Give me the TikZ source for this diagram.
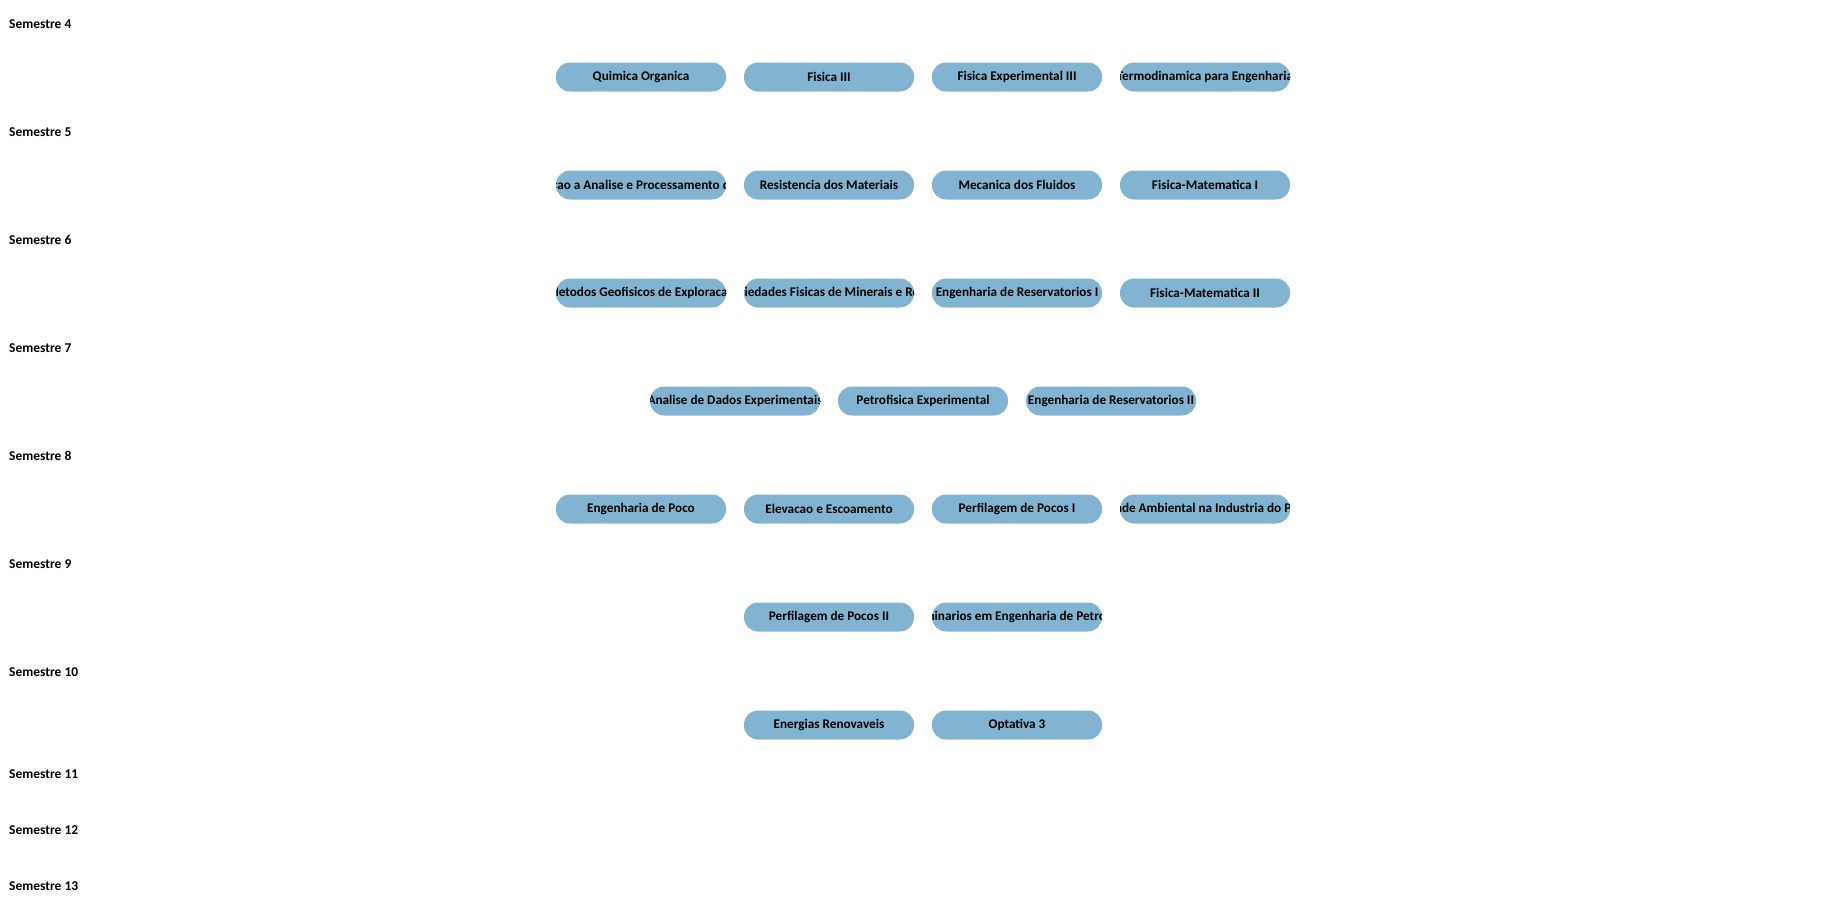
\documentclass[tikz,border=0pt]{standalone}
\usepackage{fontspec}
\setmainfont{Carlito}
\usepackage{tikz}
\usetikzlibrary{positioning}
\usepackage{xcolor}
\definecolor{dfcourse}{RGB}{130,179,208}
\tikzset{
  sem/.style={anchor=west, inner sep=0pt, font=\fontsize{13.5}{15}\selectfont\bfseries},
  course/.style={rounded corners=14pt, fill=dfcourse, minimum width=170pt, minimum height=29pt, inner sep=0pt,
    path picture={\node[font=\fontsize{13.2}{15}\selectfont\bfseries] at (path picture bounding box.center) {#1};}}
}

\begin{document}
\begin{tikzpicture}[x=1pt, y=-1pt]
\useasboundingbox (0,0) rectangle (1845,922);

% Semesters
\node[sem] (s4) at (9,24) {Semestre 4};
\node[sem] (s5) at (9,132) {Semestre 5};
\node[sem] (s6) at (9,240) {Semestre 6};
\node[sem] (s7) at (9,348) {Semestre 7};
\node[sem] (s8) at (9,456) {Semestre 8};
\node[sem] (s9) at (9,564) {Semestre 9};
\node[sem] (s10) at (9,672) {Semestre 10};
\node[sem] (s11) at (9,774) {Semestre 11};
\node[sem] (s12) at (9,830) {Semestre 12};
\node[sem] (s13) at (9,886) {Semestre 13};

% Semester 4
\node[course={Quimica Organica}] (qorg) at (641,77) {};
\node[course={Fisica III}] (fis3) at (829,77) {};
\node[course={Fisica Experimental III}] (fisexp3) at (1017,77) {};
\node[course={Termodinamica para Engenharia}] (termo) at (1205,77) {};

% Semester 5
\node[course={Introducao a Analise e Processamento de Sinais}] (sinais) at (641,185) {};
\node[course={Resistencia dos Materiais}] (resmat) at (829,185) {};
\node[course={Mecanica dos Fluidos}] (mecflu) at (1017,185) {};
\node[course={Fisica-Matematica I}] (fismat1) at (1205,185) {};

% Semester 6
\node[course={Metodos Geofisicos de Exploracao}] (geof) at (641,293) {};
\node[course={Propriedades Fisicas de Minerais e Rochas}] (propmin) at (829,293) {};
\node[course={Engenharia de Reservatorios I}] (res1) at (1017,293) {};
\node[course={Fisica-Matematica II}] (fismat2) at (1205,293) {};

% Semester 7
\node[course={Analise de Dados Experimentais}] (dados) at (735,401) {};
\node[course={Petrofisica Experimental}] (petrof) at (923,401) {};
\node[course={Engenharia de Reservatorios II}] (res2) at (1111,401) {};

% Semester 8
\node[course={Engenharia de Poco}] (poco) at (641,509) {};
\node[course={Elevacao e Escoamento}] (elev) at (829,509) {};
\node[course={Perfilagem de Pocos I}] (perf1) at (1017,509) {};
\node[course={Qualidade Ambiental na Industria do Petroleo}] (amb) at (1205,509) {};

% Semester 9
\node[course={Perfilagem de Pocos II}] (perf2) at (829,617) {};
\node[course={Seminarios em Engenharia de Petroleo}] (semin) at (1017,617) {};

% Semester 10
\node[course={Energias Renovaveis}] (renov) at (829,725) {};
\node[course={Optativa 3}] (opt3) at (1017,725) {};
\end{tikzpicture}
\end{document}
